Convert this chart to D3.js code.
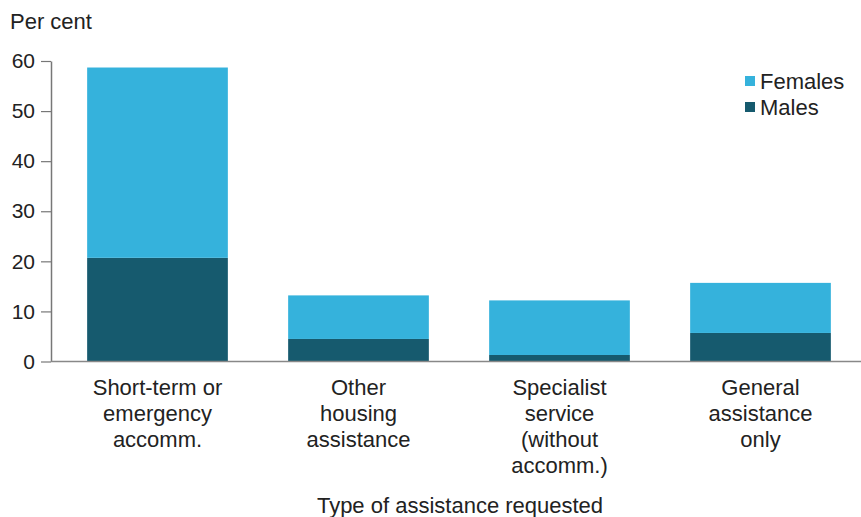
<!DOCTYPE html>
<html>
<head>
<meta charset="utf-8">
<script src="https://cdn.jsdelivr.net/npm/d3@7"></script>
<style>
  html, body { margin: 0; padding: 0; background: #fff; }
  svg { display: block; font-family: "Liberation Sans", Arial, sans-serif; }
</style>
</head>
<body>
<svg id="chart" width="861" height="517"></svg>
<script>
// Share of clients by type of assistance requested, split by sex (per cent)
const categories = [
  ["Short-term or", "emergency", "accomm."],
  ["Other", "housing", "assistance"],
  ["Specialist", "service", "(without", "accomm.)"],
  ["General", "assistance", "only"]
];
const males   = [20.7, 4.5, 1.3, 5.7];
const females = [38.0, 8.7, 10.9, 10.0];
const seriesNames = ["Males", "Females"];
const yTicks = [0, 10, 20, 30, 40, 50, 60];

const colors = { Males: "#165a6e", Females: "#35b2dc" };
const textColor = "#222";

const svg = d3.select("#chart");

const rows = categories.map((c, i) => ({ key: i, Males: males[i], Females: females[i] }));
const stacked = d3.stack().keys(seriesNames)(rows);

const x = d3.scaleBand()
  .domain(rows.map(d => d.key))
  .range([57, 861])
  .paddingInner(0.3)
  .paddingOuter(0.15);

const y = d3.scaleLinear().domain([0, 60]).range([361.5, 61]);

// stacked bars
svg.append("g").selectAll("g")
  .data(stacked)
  .join("g")
  .attr("fill", d => colors[d.key])
  .selectAll("rect")
  .data(d => d)
  .join("rect")
  .attr("x", d => x(d.data.key))
  .attr("width", x.bandwidth())
  .attr("y", d => y(d[1]))
  .attr("height", d => y(d[0]) - y(d[1]));

// y axis
const yAxis = svg.append("g")
  .attr("transform", "translate(51,0)")
  .call(d3.axisLeft(y).tickValues(yTicks).tickSize(10).tickPadding(6).tickSizeOuter(0));
yAxis.select(".domain").attr("stroke", "#777").attr("stroke-width", 1.5);
yAxis.selectAll(".tick line").attr("stroke", "#777").attr("stroke-width", 1.2);
yAxis.selectAll(".tick text")
  .attr("font-size", 21)
  .attr("fill", textColor)
  .attr("font-family", "'Liberation Sans', Arial, sans-serif");

// baseline
svg.append("line")
  .attr("x1", 51).attr("x2", 861)
  .attr("y1", y(0)).attr("y2", y(0))
  .attr("stroke", "#888").attr("stroke-width", 1.5);

// category labels
const catG = svg.append("g")
  .attr("font-size", 22)
  .attr("fill", textColor)
  .attr("text-anchor", "middle");
catG.selectAll("text")
  .data(categories)
  .join("text")
  .attr("x", (d, i) => x(i) + x.bandwidth() / 2)
  .attr("y", 395)
  .selectAll("tspan")
  .data(d => d)
  .join("tspan")
  .attr("x", function () { return d3.select(this.parentNode).attr("x"); })
  .attr("dy", (d, i) => i === 0 ? 0 : 26)
  .text(d => d);

// axis titles
svg.append("text")
  .attr("x", 10).attr("y", 29)
  .attr("font-size", 22).attr("fill", textColor)
  .text("Per cent");

svg.append("text")
  .attr("x", 460).attr("y", 513)
  .attr("text-anchor", "middle")
  .attr("font-size", 22).attr("fill", textColor)
  .text("Type of assistance requested");

// legend
const legendItems = ["Females", "Males"];
const lg = svg.append("g").attr("transform", "translate(745,81)");
const li = lg.selectAll("g")
  .data(legendItems)
  .join("g")
  .attr("transform", (d, i) => `translate(0,${i * 26})`);
li.append("rect")
  .attr("x", 0).attr("y", -5)
  .attr("width", 10).attr("height", 10)
  .attr("fill", d => colors[d]);
li.append("text")
  .attr("x", 15).attr("y", 7.5)
  .attr("font-size", 22).attr("fill", textColor)
  .text(d => d);
</script>
</body>
</html>
